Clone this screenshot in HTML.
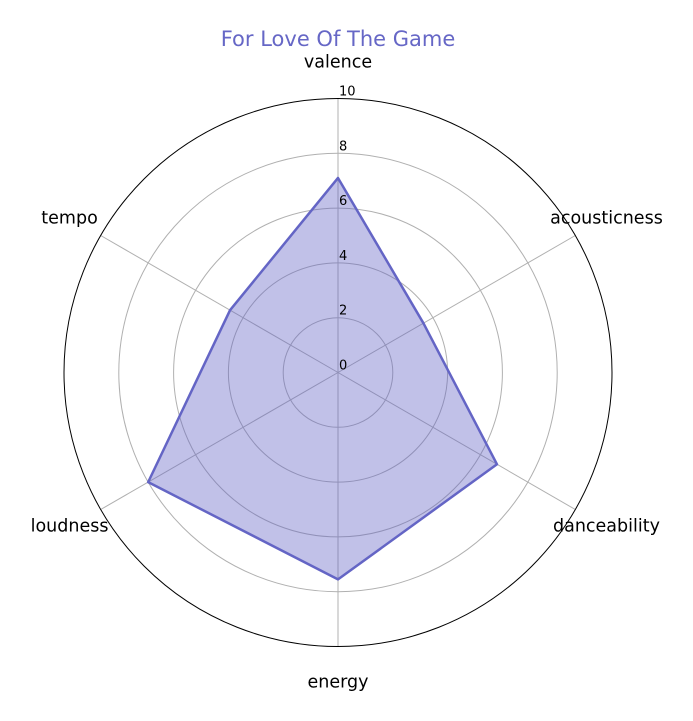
<!DOCTYPE html>
<html><head><meta charset="utf-8"><style>
html,body{margin:0;padding:0;background:#fff;}
svg{display:block;font-family:"DejaVu Sans","Liberation Sans",sans-serif;}
</style></head><body>
<svg id="chart" width="693" height="721" viewBox="0 0 693 721">
<text x="338" y="46" text-anchor="middle" font-size="21" fill="#6667c6">For Love Of The Game</text>
<g id="grid"></g><g id="series"></g><g id="labels"></g>
</svg>
<script>
const categories = ["valence","acousticness","danceability","energy","loudness","tempo"];
const values = [7.1, 3.6, 6.7, 7.55, 8.0, 4.55];
const ticks = [0,2,4,6,8,10];
const cx=338, cy=372.5, R=274, maxV=10;
const NS="http://www.w3.org/2000/svg";
function rScale(v){return v/maxV*R;}
function angle(i){return Math.PI/2 - i*2*Math.PI/categories.length;}
function pt(i,v){const a=angle(i),r=rScale(v);return [cx+r*Math.cos(a), cy-r*Math.sin(a)];}
function mk(tag,attrs,parent){const e=document.createElementNS(NS,tag);for(const k in attrs)e.setAttribute(k,attrs[k]);parent.appendChild(e);return e;}
const grid=document.getElementById('grid'), ser=document.getElementById('series'), lab=document.getElementById('labels');
ticks.forEach(t=>{
  if(t>0&&t<maxV){const c=mk('circle',{cx:cx,cy:cy,r:rScale(t),fill:'none',stroke:'#b0b0b0','stroke-width':1},grid);
  
  }
});
categories.forEach((c,i)=>{
  const p=pt(i,maxV);
  const l=mk('line',{x1:cx,y1:cy,x2:p[0],y2:p[1],stroke:'#b0b0b0','stroke-width':1},grid);
  
  
});
const outer=mk('circle',{cx:cx,cy:cy,r:R,fill:'none',stroke:'#000','stroke-width':1},grid);


const pts=values.map((v,i)=>pt(i,v).join(',')).join(' ');
const poly=mk('polygon',{points:pts,fill:'rgba(100,101,197,0.4)',stroke:'#6465c5','stroke-width':2.5,'stroke-linejoin':'round'},ser);


ticks.forEach(t=>{
  const tx=mk('text',{x:cx+1,y:cy-rScale(t)-3,'font-size':13,fill:'#000'},lab);
  tx.textContent=t;
  
  
});
categories.forEach((c,i)=>{
  const a=angle(i), r=R+36;
  let x=cx+r*Math.cos(a), y=cy-r*Math.sin(a);
  if(i===0) y=cy-R-37; if(i===3) y=cy+R+35;
  if(i===2) y-=2; if(i===4) y-=2;
  const tx=mk('text',{x:x,y:y+6,'font-size':17.5,'text-anchor':'middle',fill:'#000'},lab);
  tx.textContent=c;
  
  
});
</script>
</body></html>
